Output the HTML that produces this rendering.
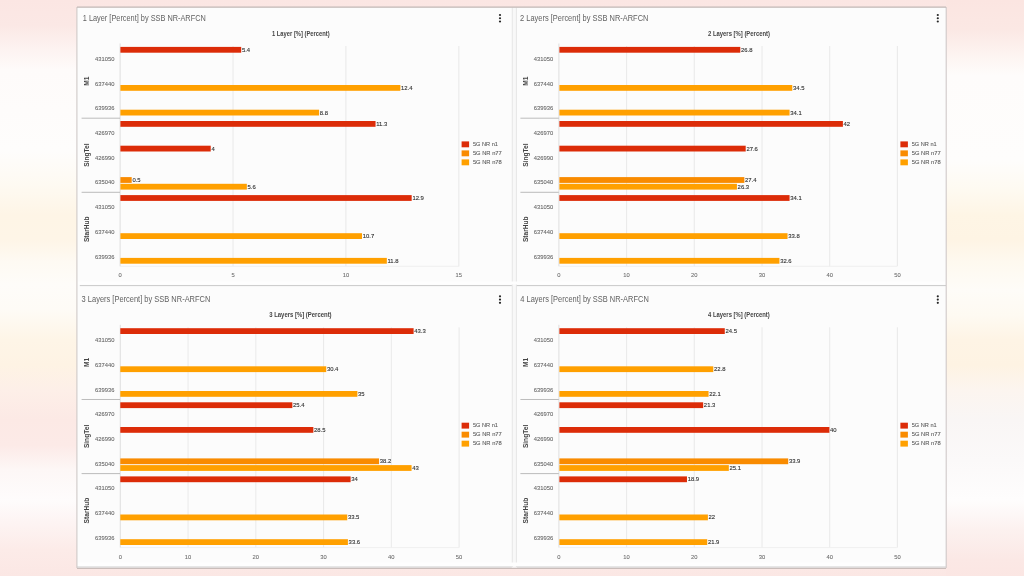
<!DOCTYPE html>
<html><head><meta charset="utf-8"><title>SSB NR-ARFCN layers</title>
<style>
html,body{margin:0;padding:0;width:1024px;height:576px;overflow:hidden;}
body{background:linear-gradient(to bottom, #fbe6e3 0px, #fbe8e5 25px, #fdf3f1 50px, #fefbfa 70px, #fefdfc 150px, #fefaf2 185px, #fef5e6 215px, #fef5e7 240px, #fefaf3 262px, #fefcf9 285px, #fefbf6 310px, #fef5e7 340px, #fef3e4 365px, #fdefe8 390px, #fce9e5 420px, #fceae7 445px, #fdf7f6 470px, #fefcfc 500px, #fdf3f2 525px, #fcebe8 550px, #fbe7e4 576px);position:relative;font-family:'Liberation Sans', Arial, sans-serif;}
svg{position:absolute;left:0;top:0;}
#rbg{position:absolute;left:946px;top:0;width:78px;height:576px;background:linear-gradient(to bottom, #fbe5e1 0px, #fbe8e4 30px, #fdf4f1 55px, #fefcfb 75px, #fefdfc 160px, #fefaf1 190px, #fef5e5 215px, #fef4e4 240px, #fef9ef 262px, #fefcf8 290px, #fefaf2 315px, #fef4e5 340px, #fef3e3 365px, #fcf5ef 390px, #f9f6f5 420px, #fbf9f9 460px, #fefdfd 500px, #fcf1ef 530px, #fbe8e5 560px, #fbe6e3 576px);}
</style></head><body>
<div id="rbg"></div>
<svg width="1024" height="576" viewBox="0 0 1024 576" font-family="'Liberation Sans', Arial, sans-serif">
<rect x="77" y="7" width="869" height="561" fill="#fcfcfc"/>
<rect x="512" y="7.5" width="4" height="560" fill="#f8f8f8"/>
<line x1="512.3" y1="7.5" x2="512.3" y2="567" stroke="#e6e6e6" stroke-width="1"/>
<line x1="516.4" y1="7.5" x2="516.4" y2="567" stroke="#e6e6e6" stroke-width="1"/>
<rect x="78" y="281.5" width="867" height="3" fill="#fefefe"/>
<line x1="79.8" y1="285.6" x2="511.8" y2="285.6" stroke="#c9c9c9" stroke-width="1"/>
<line x1="516.8" y1="285.6" x2="946" y2="285.6" stroke="#c9c9c9" stroke-width="1"/>
<rect x="78" y="562.5" width="867" height="3.5" fill="#fefefe"/>
<line x1="77" y1="567" x2="511.8" y2="567" stroke="#d0d0d0" stroke-width="1"/>
<line x1="516.8" y1="567" x2="946" y2="567" stroke="#d0d0d0" stroke-width="1"/>
<line x1="77" y1="568.4" x2="946" y2="568.4" stroke="#c9bdba" stroke-width="1.1"/>
<line x1="76.9" y1="7" x2="76.9" y2="568" stroke="#cfc9c8" stroke-width="1.1"/>
<line x1="946.2" y1="7" x2="946.2" y2="568" stroke="#cfc9c8" stroke-width="1.1"/>
<line x1="77" y1="7.2" x2="946" y2="7.2" stroke="#c2b7b5" stroke-width="1.2"/>
<g transform="translate(0.00,0.00)">
<text x="82.80" y="21" font-size="8.6" fill="#616161" textLength="123.00" lengthAdjust="spacingAndGlyphs">1 Layer [Percent] by SSB NR-ARFCN</text>
<circle cx="500.00" cy="15.00" r="1.1" fill="#262626"/>
<circle cx="500.00" cy="18.25" r="1.1" fill="#262626"/>
<circle cx="500.00" cy="21.50" r="1.1" fill="#262626"/>
<text x="300.80" y="36.2" font-size="6.6" font-weight="bold" fill="#444" text-anchor="middle" textLength="57.60" lengthAdjust="spacingAndGlyphs">1 Layer [%] (Percent)</text>
<line x1="120.10" y1="43.5" x2="120.10" y2="266.3" stroke="#d8d8d8" stroke-width="0.8"/>
<text x="120.10" y="277.3" font-size="5.8" fill="#6c6c6c" stroke="#6c6c6c" stroke-width="0.08" text-anchor="middle">0</text>
<line x1="233.00" y1="46.0" x2="233.00" y2="266.3" stroke="#e4e4e4" stroke-width="0.8"/>
<text x="233.00" y="277.3" font-size="5.8" fill="#6c6c6c" stroke="#6c6c6c" stroke-width="0.08" text-anchor="middle">5</text>
<line x1="345.90" y1="46.0" x2="345.90" y2="266.3" stroke="#e4e4e4" stroke-width="0.8"/>
<text x="345.90" y="277.3" font-size="5.8" fill="#6c6c6c" stroke="#6c6c6c" stroke-width="0.08" text-anchor="middle">10</text>
<line x1="458.80" y1="46.0" x2="458.80" y2="266.3" stroke="#e4e4e4" stroke-width="0.8"/>
<text x="458.80" y="277.3" font-size="5.8" fill="#6c6c6c" stroke="#6c6c6c" stroke-width="0.08" text-anchor="middle">15</text>
<line x1="120.40" y1="266.3" x2="459.10" y2="266.3" stroke="#ececec" stroke-width="0.8"/>
<line x1="81.6" y1="118.20" x2="120" y2="118.20" stroke="#b4b4b4" stroke-width="0.9"/>
<line x1="81.6" y1="192.30" x2="120" y2="192.30" stroke="#b4b4b4" stroke-width="0.9"/>
<text x="114.4" y="60.90" font-size="5.8" fill="#6a6a6a" stroke="#6a6a6a" stroke-width="0.1" text-anchor="end">431050</text>
<text x="114.4" y="85.60" font-size="5.8" fill="#6a6a6a" stroke="#6a6a6a" stroke-width="0.1" text-anchor="end">637440</text>
<text x="114.4" y="110.30" font-size="5.8" fill="#6a6a6a" stroke="#6a6a6a" stroke-width="0.1" text-anchor="end">639936</text>
<text x="114.4" y="135.00" font-size="5.8" fill="#6a6a6a" stroke="#6a6a6a" stroke-width="0.1" text-anchor="end">426970</text>
<text x="114.4" y="159.70" font-size="5.8" fill="#6a6a6a" stroke="#6a6a6a" stroke-width="0.1" text-anchor="end">426990</text>
<text x="114.4" y="184.40" font-size="5.8" fill="#6a6a6a" stroke="#6a6a6a" stroke-width="0.1" text-anchor="end">635040</text>
<text x="114.4" y="209.10" font-size="5.8" fill="#6a6a6a" stroke="#6a6a6a" stroke-width="0.1" text-anchor="end">431050</text>
<text x="114.4" y="233.80" font-size="5.8" fill="#6a6a6a" stroke="#6a6a6a" stroke-width="0.1" text-anchor="end">637440</text>
<text x="114.4" y="258.50" font-size="5.8" fill="#6a6a6a" stroke="#6a6a6a" stroke-width="0.1" text-anchor="end">639936</text>
<text transform="translate(89.0,81.05) rotate(-90)" font-size="6.6" font-weight="bold" fill="#444" text-anchor="middle">M1</text>
<text transform="translate(89.0,155.15) rotate(-90)" font-size="6.6" font-weight="bold" fill="#444" text-anchor="middle">SingTel</text>
<text transform="translate(89.0,229.25) rotate(-90)" font-size="6.6" font-weight="bold" fill="#444" text-anchor="middle">StarHub</text>
<rect x="120.40" y="46.90" width="120.80" height="5.80" fill="#dc2c08"/>
<text x="241.90" y="51.70" font-size="5.9" fill="#333" stroke="#333" stroke-width="0.12">5.4</text>
<rect x="120.40" y="85.00" width="279.99" height="5.80" fill="#ffa000"/>
<text x="401.09" y="89.80" font-size="5.9" fill="#333" stroke="#333" stroke-width="0.12">12.4</text>
<rect x="120.40" y="109.70" width="198.70" height="5.80" fill="#ffa000"/>
<text x="319.80" y="114.50" font-size="5.9" fill="#333" stroke="#333" stroke-width="0.12">8.8</text>
<rect x="120.40" y="121.00" width="255.15" height="5.80" fill="#dc2c08"/>
<text x="376.25" y="125.80" font-size="5.9" fill="#333" stroke="#333" stroke-width="0.12">11.3</text>
<rect x="120.40" y="145.70" width="90.32" height="5.80" fill="#dc2c08"/>
<text x="211.42" y="150.50" font-size="5.9" fill="#333" stroke="#333" stroke-width="0.12">4</text>
<rect x="120.40" y="177.10" width="11.29" height="5.80" fill="#f98b00"/>
<text x="132.39" y="181.90" font-size="5.9" fill="#333" stroke="#333" stroke-width="0.12">0.5</text>
<rect x="120.40" y="183.80" width="126.45" height="5.80" fill="#ffa000"/>
<text x="247.55" y="188.60" font-size="5.9" fill="#333" stroke="#333" stroke-width="0.12">5.6</text>
<rect x="120.40" y="195.10" width="291.28" height="5.80" fill="#dc2c08"/>
<text x="412.38" y="199.90" font-size="5.9" fill="#333" stroke="#333" stroke-width="0.12">12.9</text>
<rect x="120.40" y="233.20" width="241.61" height="5.80" fill="#ffa000"/>
<text x="362.71" y="238.00" font-size="5.9" fill="#333" stroke="#333" stroke-width="0.12">10.7</text>
<rect x="120.40" y="257.90" width="266.44" height="5.80" fill="#ffa000"/>
<text x="387.54" y="262.70" font-size="5.9" fill="#333" stroke="#333" stroke-width="0.12">11.8</text>
<rect x="461.6" y="141.40" width="7.5" height="5.9" fill="#dc2c08"/>
<text x="472.9" y="146.00" font-size="6.0" fill="#555" stroke="#555" stroke-width="0.08" textLength="25.0" lengthAdjust="spacingAndGlyphs">5G NR n1</text>
<rect x="461.6" y="150.40" width="7.5" height="5.9" fill="#f98b00"/>
<text x="472.9" y="155.00" font-size="6.0" fill="#555" stroke="#555" stroke-width="0.08" textLength="28.9" lengthAdjust="spacingAndGlyphs">5G NR n77</text>
<rect x="461.6" y="159.40" width="7.5" height="5.9" fill="#ffa000"/>
<text x="472.9" y="164.00" font-size="6.0" fill="#555" stroke="#555" stroke-width="0.08" textLength="28.9" lengthAdjust="spacingAndGlyphs">5G NR n78</text>
</g>
<g transform="translate(438.80,0.00)">
<text x="81.30" y="21" font-size="8.6" fill="#616161" textLength="128.30" lengthAdjust="spacingAndGlyphs">2 Layers [Percent] by SSB NR-ARFCN</text>
<circle cx="499.00" cy="15.00" r="1.1" fill="#262626"/>
<circle cx="499.00" cy="18.25" r="1.1" fill="#262626"/>
<circle cx="499.00" cy="21.50" r="1.1" fill="#262626"/>
<text x="300.20" y="36.2" font-size="6.6" font-weight="bold" fill="#444" text-anchor="middle" textLength="62.00" lengthAdjust="spacingAndGlyphs">2 Layers [%] (Percent)</text>
<line x1="120.10" y1="43.5" x2="120.10" y2="266.3" stroke="#d8d8d8" stroke-width="0.8"/>
<text x="120.10" y="277.3" font-size="5.8" fill="#6c6c6c" stroke="#6c6c6c" stroke-width="0.08" text-anchor="middle">0</text>
<line x1="187.80" y1="46.0" x2="187.80" y2="266.3" stroke="#e4e4e4" stroke-width="0.8"/>
<text x="187.80" y="277.3" font-size="5.8" fill="#6c6c6c" stroke="#6c6c6c" stroke-width="0.08" text-anchor="middle">10</text>
<line x1="255.50" y1="46.0" x2="255.50" y2="266.3" stroke="#e4e4e4" stroke-width="0.8"/>
<text x="255.50" y="277.3" font-size="5.8" fill="#6c6c6c" stroke="#6c6c6c" stroke-width="0.08" text-anchor="middle">20</text>
<line x1="323.20" y1="46.0" x2="323.20" y2="266.3" stroke="#e4e4e4" stroke-width="0.8"/>
<text x="323.20" y="277.3" font-size="5.8" fill="#6c6c6c" stroke="#6c6c6c" stroke-width="0.08" text-anchor="middle">30</text>
<line x1="390.90" y1="46.0" x2="390.90" y2="266.3" stroke="#e4e4e4" stroke-width="0.8"/>
<text x="390.90" y="277.3" font-size="5.8" fill="#6c6c6c" stroke="#6c6c6c" stroke-width="0.08" text-anchor="middle">40</text>
<line x1="458.60" y1="46.0" x2="458.60" y2="266.3" stroke="#e4e4e4" stroke-width="0.8"/>
<text x="458.60" y="277.3" font-size="5.8" fill="#6c6c6c" stroke="#6c6c6c" stroke-width="0.08" text-anchor="middle">50</text>
<line x1="120.60" y1="266.3" x2="458.10" y2="266.3" stroke="#ececec" stroke-width="0.8"/>
<line x1="81.6" y1="118.20" x2="120" y2="118.20" stroke="#b4b4b4" stroke-width="0.9"/>
<line x1="81.6" y1="192.30" x2="120" y2="192.30" stroke="#b4b4b4" stroke-width="0.9"/>
<text x="114.4" y="60.90" font-size="5.8" fill="#6a6a6a" stroke="#6a6a6a" stroke-width="0.1" text-anchor="end">431050</text>
<text x="114.4" y="85.60" font-size="5.8" fill="#6a6a6a" stroke="#6a6a6a" stroke-width="0.1" text-anchor="end">637440</text>
<text x="114.4" y="110.30" font-size="5.8" fill="#6a6a6a" stroke="#6a6a6a" stroke-width="0.1" text-anchor="end">639936</text>
<text x="114.4" y="135.00" font-size="5.8" fill="#6a6a6a" stroke="#6a6a6a" stroke-width="0.1" text-anchor="end">426970</text>
<text x="114.4" y="159.70" font-size="5.8" fill="#6a6a6a" stroke="#6a6a6a" stroke-width="0.1" text-anchor="end">426990</text>
<text x="114.4" y="184.40" font-size="5.8" fill="#6a6a6a" stroke="#6a6a6a" stroke-width="0.1" text-anchor="end">635040</text>
<text x="114.4" y="209.10" font-size="5.8" fill="#6a6a6a" stroke="#6a6a6a" stroke-width="0.1" text-anchor="end">431050</text>
<text x="114.4" y="233.80" font-size="5.8" fill="#6a6a6a" stroke="#6a6a6a" stroke-width="0.1" text-anchor="end">637440</text>
<text x="114.4" y="258.50" font-size="5.8" fill="#6a6a6a" stroke="#6a6a6a" stroke-width="0.1" text-anchor="end">639936</text>
<text transform="translate(89.0,81.05) rotate(-90)" font-size="6.6" font-weight="bold" fill="#444" text-anchor="middle">M1</text>
<text transform="translate(89.0,155.15) rotate(-90)" font-size="6.6" font-weight="bold" fill="#444" text-anchor="middle">SingTel</text>
<text transform="translate(89.0,229.25) rotate(-90)" font-size="6.6" font-weight="bold" fill="#444" text-anchor="middle">StarHub</text>
<rect x="120.60" y="46.90" width="180.90" height="5.80" fill="#dc2c08"/>
<text x="302.20" y="51.70" font-size="5.9" fill="#333" stroke="#333" stroke-width="0.12">26.8</text>
<rect x="120.60" y="85.00" width="232.88" height="5.80" fill="#ffa000"/>
<text x="354.18" y="89.80" font-size="5.9" fill="#333" stroke="#333" stroke-width="0.12">34.5</text>
<rect x="120.60" y="109.70" width="230.18" height="5.80" fill="#ffa000"/>
<text x="351.47" y="114.50" font-size="5.9" fill="#333" stroke="#333" stroke-width="0.12">34.1</text>
<rect x="120.60" y="121.00" width="283.50" height="5.80" fill="#dc2c08"/>
<text x="404.80" y="125.80" font-size="5.9" fill="#333" stroke="#333" stroke-width="0.12">42</text>
<rect x="120.60" y="145.70" width="186.30" height="5.80" fill="#dc2c08"/>
<text x="307.60" y="150.50" font-size="5.9" fill="#333" stroke="#333" stroke-width="0.12">27.6</text>
<rect x="120.60" y="177.10" width="184.95" height="5.80" fill="#f98b00"/>
<text x="306.25" y="181.90" font-size="5.9" fill="#333" stroke="#333" stroke-width="0.12">27.4</text>
<rect x="120.60" y="183.80" width="177.53" height="5.80" fill="#ffa000"/>
<text x="298.82" y="188.60" font-size="5.9" fill="#333" stroke="#333" stroke-width="0.12">26.3</text>
<rect x="120.60" y="195.10" width="230.18" height="5.80" fill="#dc2c08"/>
<text x="351.47" y="199.90" font-size="5.9" fill="#333" stroke="#333" stroke-width="0.12">34.1</text>
<rect x="120.60" y="233.20" width="228.15" height="5.80" fill="#ffa000"/>
<text x="349.45" y="238.00" font-size="5.9" fill="#333" stroke="#333" stroke-width="0.12">33.8</text>
<rect x="120.60" y="257.90" width="220.05" height="5.80" fill="#ffa000"/>
<text x="341.35" y="262.70" font-size="5.9" fill="#333" stroke="#333" stroke-width="0.12">32.6</text>
<rect x="461.6" y="141.40" width="7.5" height="5.9" fill="#dc2c08"/>
<text x="472.9" y="146.00" font-size="6.0" fill="#555" stroke="#555" stroke-width="0.08" textLength="25.0" lengthAdjust="spacingAndGlyphs">5G NR n1</text>
<rect x="461.6" y="150.40" width="7.5" height="5.9" fill="#f98b00"/>
<text x="472.9" y="155.00" font-size="6.0" fill="#555" stroke="#555" stroke-width="0.08" textLength="28.9" lengthAdjust="spacingAndGlyphs">5G NR n77</text>
<rect x="461.6" y="159.40" width="7.5" height="5.9" fill="#ffa000"/>
<text x="472.9" y="164.00" font-size="6.0" fill="#555" stroke="#555" stroke-width="0.08" textLength="28.9" lengthAdjust="spacingAndGlyphs">5G NR n78</text>
</g>
<g transform="translate(0.00,281.30)">
<text x="81.60" y="21" font-size="8.6" fill="#616161" textLength="128.80" lengthAdjust="spacingAndGlyphs">3 Layers [Percent] by SSB NR-ARFCN</text>
<circle cx="500.00" cy="15.00" r="1.1" fill="#262626"/>
<circle cx="500.00" cy="18.25" r="1.1" fill="#262626"/>
<circle cx="500.00" cy="21.50" r="1.1" fill="#262626"/>
<text x="300.40" y="36.2" font-size="6.6" font-weight="bold" fill="#444" text-anchor="middle" textLength="62.40" lengthAdjust="spacingAndGlyphs">3 Layers [%] (Percent)</text>
<line x1="120.30" y1="43.5" x2="120.30" y2="266.3" stroke="#d8d8d8" stroke-width="0.8"/>
<text x="120.30" y="277.3" font-size="5.8" fill="#6c6c6c" stroke="#6c6c6c" stroke-width="0.08" text-anchor="middle">0</text>
<line x1="188.06" y1="46.0" x2="188.06" y2="266.3" stroke="#e4e4e4" stroke-width="0.8"/>
<text x="188.06" y="277.3" font-size="5.8" fill="#6c6c6c" stroke="#6c6c6c" stroke-width="0.08" text-anchor="middle">10</text>
<line x1="255.82" y1="46.0" x2="255.82" y2="266.3" stroke="#e4e4e4" stroke-width="0.8"/>
<text x="255.82" y="277.3" font-size="5.8" fill="#6c6c6c" stroke="#6c6c6c" stroke-width="0.08" text-anchor="middle">20</text>
<line x1="323.58" y1="46.0" x2="323.58" y2="266.3" stroke="#e4e4e4" stroke-width="0.8"/>
<text x="323.58" y="277.3" font-size="5.8" fill="#6c6c6c" stroke="#6c6c6c" stroke-width="0.08" text-anchor="middle">30</text>
<line x1="391.34" y1="46.0" x2="391.34" y2="266.3" stroke="#e4e4e4" stroke-width="0.8"/>
<text x="391.34" y="277.3" font-size="5.8" fill="#6c6c6c" stroke="#6c6c6c" stroke-width="0.08" text-anchor="middle">40</text>
<line x1="459.10" y1="46.0" x2="459.10" y2="266.3" stroke="#e4e4e4" stroke-width="0.8"/>
<text x="459.10" y="277.3" font-size="5.8" fill="#6c6c6c" stroke="#6c6c6c" stroke-width="0.08" text-anchor="middle">50</text>
<line x1="120.30" y1="266.3" x2="459.00" y2="266.3" stroke="#ececec" stroke-width="0.8"/>
<line x1="81.6" y1="118.20" x2="120" y2="118.20" stroke="#b4b4b4" stroke-width="0.9"/>
<line x1="81.6" y1="192.30" x2="120" y2="192.30" stroke="#b4b4b4" stroke-width="0.9"/>
<text x="114.4" y="60.90" font-size="5.8" fill="#6a6a6a" stroke="#6a6a6a" stroke-width="0.1" text-anchor="end">431050</text>
<text x="114.4" y="85.60" font-size="5.8" fill="#6a6a6a" stroke="#6a6a6a" stroke-width="0.1" text-anchor="end">637440</text>
<text x="114.4" y="110.30" font-size="5.8" fill="#6a6a6a" stroke="#6a6a6a" stroke-width="0.1" text-anchor="end">639936</text>
<text x="114.4" y="135.00" font-size="5.8" fill="#6a6a6a" stroke="#6a6a6a" stroke-width="0.1" text-anchor="end">426970</text>
<text x="114.4" y="159.70" font-size="5.8" fill="#6a6a6a" stroke="#6a6a6a" stroke-width="0.1" text-anchor="end">426990</text>
<text x="114.4" y="184.40" font-size="5.8" fill="#6a6a6a" stroke="#6a6a6a" stroke-width="0.1" text-anchor="end">635040</text>
<text x="114.4" y="209.10" font-size="5.8" fill="#6a6a6a" stroke="#6a6a6a" stroke-width="0.1" text-anchor="end">431050</text>
<text x="114.4" y="233.80" font-size="5.8" fill="#6a6a6a" stroke="#6a6a6a" stroke-width="0.1" text-anchor="end">637440</text>
<text x="114.4" y="258.50" font-size="5.8" fill="#6a6a6a" stroke="#6a6a6a" stroke-width="0.1" text-anchor="end">639936</text>
<text transform="translate(89.0,81.05) rotate(-90)" font-size="6.6" font-weight="bold" fill="#444" text-anchor="middle">M1</text>
<text transform="translate(89.0,155.15) rotate(-90)" font-size="6.6" font-weight="bold" fill="#444" text-anchor="middle">SingTel</text>
<text transform="translate(89.0,229.25) rotate(-90)" font-size="6.6" font-weight="bold" fill="#444" text-anchor="middle">StarHub</text>
<rect x="120.30" y="46.90" width="293.31" height="5.80" fill="#dc2c08"/>
<text x="414.31" y="51.70" font-size="5.9" fill="#333" stroke="#333" stroke-width="0.12">43.3</text>
<rect x="120.30" y="85.00" width="205.93" height="5.80" fill="#ffa000"/>
<text x="326.93" y="89.80" font-size="5.9" fill="#333" stroke="#333" stroke-width="0.12">30.4</text>
<rect x="120.30" y="109.70" width="237.09" height="5.80" fill="#ffa000"/>
<text x="358.09" y="114.50" font-size="5.9" fill="#333" stroke="#333" stroke-width="0.12">35</text>
<rect x="120.30" y="121.00" width="172.06" height="5.80" fill="#dc2c08"/>
<text x="293.06" y="125.80" font-size="5.9" fill="#333" stroke="#333" stroke-width="0.12">25.4</text>
<rect x="120.30" y="145.70" width="193.06" height="5.80" fill="#dc2c08"/>
<text x="314.06" y="150.50" font-size="5.9" fill="#333" stroke="#333" stroke-width="0.12">28.5</text>
<rect x="120.30" y="177.10" width="258.77" height="5.80" fill="#f98b00"/>
<text x="379.77" y="181.90" font-size="5.9" fill="#333" stroke="#333" stroke-width="0.12">38.2</text>
<rect x="120.30" y="183.80" width="291.28" height="5.80" fill="#ffa000"/>
<text x="412.28" y="188.60" font-size="5.9" fill="#333" stroke="#333" stroke-width="0.12">43</text>
<rect x="120.30" y="195.10" width="230.32" height="5.80" fill="#dc2c08"/>
<text x="351.32" y="199.90" font-size="5.9" fill="#333" stroke="#333" stroke-width="0.12">34</text>
<rect x="120.30" y="233.20" width="226.93" height="5.80" fill="#ffa000"/>
<text x="347.93" y="238.00" font-size="5.9" fill="#333" stroke="#333" stroke-width="0.12">33.5</text>
<rect x="120.30" y="257.90" width="227.61" height="5.80" fill="#ffa000"/>
<text x="348.61" y="262.70" font-size="5.9" fill="#333" stroke="#333" stroke-width="0.12">33.6</text>
<rect x="461.6" y="141.40" width="7.5" height="5.9" fill="#dc2c08"/>
<text x="472.9" y="146.00" font-size="6.0" fill="#555" stroke="#555" stroke-width="0.08" textLength="25.0" lengthAdjust="spacingAndGlyphs">5G NR n1</text>
<rect x="461.6" y="150.40" width="7.5" height="5.9" fill="#f98b00"/>
<text x="472.9" y="155.00" font-size="6.0" fill="#555" stroke="#555" stroke-width="0.08" textLength="28.9" lengthAdjust="spacingAndGlyphs">5G NR n77</text>
<rect x="461.6" y="159.40" width="7.5" height="5.9" fill="#ffa000"/>
<text x="472.9" y="164.00" font-size="6.0" fill="#555" stroke="#555" stroke-width="0.08" textLength="28.9" lengthAdjust="spacingAndGlyphs">5G NR n78</text>
</g>
<g transform="translate(438.80,281.30)">
<text x="81.50" y="21" font-size="8.6" fill="#616161" textLength="128.50" lengthAdjust="spacingAndGlyphs">4 Layers [Percent] by SSB NR-ARFCN</text>
<circle cx="499.00" cy="15.00" r="1.1" fill="#262626"/>
<circle cx="499.00" cy="18.25" r="1.1" fill="#262626"/>
<circle cx="499.00" cy="21.50" r="1.1" fill="#262626"/>
<text x="300.10" y="36.2" font-size="6.6" font-weight="bold" fill="#444" text-anchor="middle" textLength="61.60" lengthAdjust="spacingAndGlyphs">4 Layers [%] (Percent)</text>
<line x1="120.10" y1="43.5" x2="120.10" y2="266.3" stroke="#d8d8d8" stroke-width="0.8"/>
<text x="120.10" y="277.3" font-size="5.8" fill="#6c6c6c" stroke="#6c6c6c" stroke-width="0.08" text-anchor="middle">0</text>
<line x1="187.80" y1="46.0" x2="187.80" y2="266.3" stroke="#e4e4e4" stroke-width="0.8"/>
<text x="187.80" y="277.3" font-size="5.8" fill="#6c6c6c" stroke="#6c6c6c" stroke-width="0.08" text-anchor="middle">10</text>
<line x1="255.50" y1="46.0" x2="255.50" y2="266.3" stroke="#e4e4e4" stroke-width="0.8"/>
<text x="255.50" y="277.3" font-size="5.8" fill="#6c6c6c" stroke="#6c6c6c" stroke-width="0.08" text-anchor="middle">20</text>
<line x1="323.20" y1="46.0" x2="323.20" y2="266.3" stroke="#e4e4e4" stroke-width="0.8"/>
<text x="323.20" y="277.3" font-size="5.8" fill="#6c6c6c" stroke="#6c6c6c" stroke-width="0.08" text-anchor="middle">30</text>
<line x1="390.90" y1="46.0" x2="390.90" y2="266.3" stroke="#e4e4e4" stroke-width="0.8"/>
<text x="390.90" y="277.3" font-size="5.8" fill="#6c6c6c" stroke="#6c6c6c" stroke-width="0.08" text-anchor="middle">40</text>
<line x1="458.60" y1="46.0" x2="458.60" y2="266.3" stroke="#e4e4e4" stroke-width="0.8"/>
<text x="458.60" y="277.3" font-size="5.8" fill="#6c6c6c" stroke="#6c6c6c" stroke-width="0.08" text-anchor="middle">50</text>
<line x1="120.60" y1="266.3" x2="458.10" y2="266.3" stroke="#ececec" stroke-width="0.8"/>
<line x1="81.6" y1="118.20" x2="120" y2="118.20" stroke="#b4b4b4" stroke-width="0.9"/>
<line x1="81.6" y1="192.30" x2="120" y2="192.30" stroke="#b4b4b4" stroke-width="0.9"/>
<text x="114.4" y="60.90" font-size="5.8" fill="#6a6a6a" stroke="#6a6a6a" stroke-width="0.1" text-anchor="end">431050</text>
<text x="114.4" y="85.60" font-size="5.8" fill="#6a6a6a" stroke="#6a6a6a" stroke-width="0.1" text-anchor="end">637440</text>
<text x="114.4" y="110.30" font-size="5.8" fill="#6a6a6a" stroke="#6a6a6a" stroke-width="0.1" text-anchor="end">639936</text>
<text x="114.4" y="135.00" font-size="5.8" fill="#6a6a6a" stroke="#6a6a6a" stroke-width="0.1" text-anchor="end">426970</text>
<text x="114.4" y="159.70" font-size="5.8" fill="#6a6a6a" stroke="#6a6a6a" stroke-width="0.1" text-anchor="end">426990</text>
<text x="114.4" y="184.40" font-size="5.8" fill="#6a6a6a" stroke="#6a6a6a" stroke-width="0.1" text-anchor="end">635040</text>
<text x="114.4" y="209.10" font-size="5.8" fill="#6a6a6a" stroke="#6a6a6a" stroke-width="0.1" text-anchor="end">431050</text>
<text x="114.4" y="233.80" font-size="5.8" fill="#6a6a6a" stroke="#6a6a6a" stroke-width="0.1" text-anchor="end">637440</text>
<text x="114.4" y="258.50" font-size="5.8" fill="#6a6a6a" stroke="#6a6a6a" stroke-width="0.1" text-anchor="end">639936</text>
<text transform="translate(89.0,81.05) rotate(-90)" font-size="6.6" font-weight="bold" fill="#444" text-anchor="middle">M1</text>
<text transform="translate(89.0,155.15) rotate(-90)" font-size="6.6" font-weight="bold" fill="#444" text-anchor="middle">SingTel</text>
<text transform="translate(89.0,229.25) rotate(-90)" font-size="6.6" font-weight="bold" fill="#444" text-anchor="middle">StarHub</text>
<rect x="120.60" y="46.90" width="165.38" height="5.80" fill="#dc2c08"/>
<text x="286.68" y="51.70" font-size="5.9" fill="#333" stroke="#333" stroke-width="0.12">24.5</text>
<rect x="120.60" y="85.00" width="153.90" height="5.80" fill="#ffa000"/>
<text x="275.20" y="89.80" font-size="5.9" fill="#333" stroke="#333" stroke-width="0.12">22.8</text>
<rect x="120.60" y="109.70" width="149.18" height="5.80" fill="#ffa000"/>
<text x="270.47" y="114.50" font-size="5.9" fill="#333" stroke="#333" stroke-width="0.12">22.1</text>
<rect x="120.60" y="121.00" width="143.78" height="5.80" fill="#dc2c08"/>
<text x="265.07" y="125.80" font-size="5.9" fill="#333" stroke="#333" stroke-width="0.12">21.3</text>
<rect x="120.60" y="145.70" width="270.00" height="5.80" fill="#dc2c08"/>
<text x="391.30" y="150.50" font-size="5.9" fill="#333" stroke="#333" stroke-width="0.12">40</text>
<rect x="120.60" y="177.10" width="228.82" height="5.80" fill="#f98b00"/>
<text x="350.12" y="181.90" font-size="5.9" fill="#333" stroke="#333" stroke-width="0.12">33.9</text>
<rect x="120.60" y="183.80" width="169.43" height="5.80" fill="#ffa000"/>
<text x="290.72" y="188.60" font-size="5.9" fill="#333" stroke="#333" stroke-width="0.12">25.1</text>
<rect x="120.60" y="195.10" width="127.57" height="5.80" fill="#dc2c08"/>
<text x="248.87" y="199.90" font-size="5.9" fill="#333" stroke="#333" stroke-width="0.12">18.9</text>
<rect x="120.60" y="233.20" width="148.50" height="5.80" fill="#ffa000"/>
<text x="269.80" y="238.00" font-size="5.9" fill="#333" stroke="#333" stroke-width="0.12">22</text>
<rect x="120.60" y="257.90" width="147.82" height="5.80" fill="#ffa000"/>
<text x="269.12" y="262.70" font-size="5.9" fill="#333" stroke="#333" stroke-width="0.12">21.9</text>
<rect x="461.6" y="141.40" width="7.5" height="5.9" fill="#dc2c08"/>
<text x="472.9" y="146.00" font-size="6.0" fill="#555" stroke="#555" stroke-width="0.08" textLength="25.0" lengthAdjust="spacingAndGlyphs">5G NR n1</text>
<rect x="461.6" y="150.40" width="7.5" height="5.9" fill="#f98b00"/>
<text x="472.9" y="155.00" font-size="6.0" fill="#555" stroke="#555" stroke-width="0.08" textLength="28.9" lengthAdjust="spacingAndGlyphs">5G NR n77</text>
<rect x="461.6" y="159.40" width="7.5" height="5.9" fill="#ffa000"/>
<text x="472.9" y="164.00" font-size="6.0" fill="#555" stroke="#555" stroke-width="0.08" textLength="28.9" lengthAdjust="spacingAndGlyphs">5G NR n78</text>
</g>
</svg>
</body></html>
